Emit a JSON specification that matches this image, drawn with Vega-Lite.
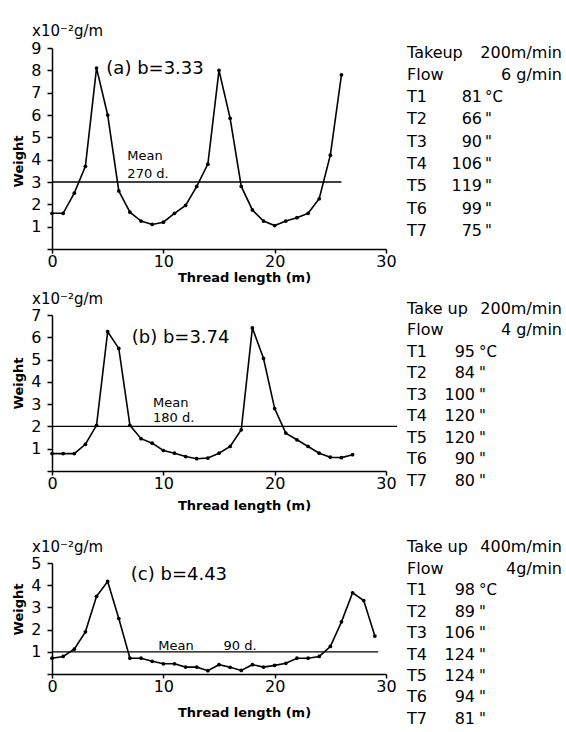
{
  "$schema": "https://vega.github.io/schema/vega-lite/v6.json",
  "padding": {"left": 12, "top": 24, "right": 0, "bottom": 0},
  "background": "white",
  "spacing": 8,
  "config": {
    "view": {"stroke": null},
    "font": "DejaVu Sans",
    "axis": {"grid": false, "domainColor": "black", "tickColor": "black", "labelColor": "black", "titleColor": "black", "domainWidth": 1.5, "tickWidth": 1.5, "labelFontSize": 16, "labelFont": "DejaVu Sans", "titleFont": "DejaVu Sans", "titleFontSize": 13, "titleFontWeight": "bold", "labelOverlap": false},
    "axisX": {"tickSize": 4, "labelPadding": 0, "labelFlush": false, "titleX": 192},
    "axisY": {"tickSize": 5, "labelPadding": 6, "titlePadding": 5},
    "title": {"color": "black", "font": "DejaVu Sans", "fontSize": 15, "fontWeight": "normal", "anchor": "start", "frame": "group", "dx": -20},
    "text": {"color": "black", "font": "DejaVu Sans"}
  },
  "datasets": {
    "a": [
      {"len": 0, "w": 1.6}, {"len": 1, "w": 1.6}, {"len": 2, "w": 2.5}, {"len": 3, "w": 3.7}, {"len": 4, "w": 8.1},
      {"len": 5, "w": 6.0}, {"len": 6, "w": 2.6}, {"len": 7, "w": 1.65}, {"len": 8, "w": 1.25}, {"len": 9, "w": 1.1},
      {"len": 10, "w": 1.2}, {"len": 11, "w": 1.6}, {"len": 12, "w": 1.95}, {"len": 13, "w": 2.8}, {"len": 14, "w": 3.8},
      {"len": 15, "w": 8.0}, {"len": 16, "w": 5.85}, {"len": 17, "w": 2.8}, {"len": 18, "w": 1.75}, {"len": 19, "w": 1.25},
      {"len": 20, "w": 1.05}, {"len": 21, "w": 1.25}, {"len": 22, "w": 1.4}, {"len": 23, "w": 1.6}, {"len": 24, "w": 2.25},
      {"len": 25, "w": 4.2}, {"len": 26, "w": 7.8}
    ],
    "b": [
      {"len": 0, "w": 0.78}, {"len": 1, "w": 0.78}, {"len": 2, "w": 0.78}, {"len": 3, "w": 1.2}, {"len": 4, "w": 2.05},
      {"len": 5, "w": 6.25}, {"len": 6, "w": 5.5}, {"len": 7, "w": 2.05}, {"len": 8, "w": 1.45}, {"len": 9, "w": 1.25},
      {"len": 10, "w": 0.92}, {"len": 11, "w": 0.8}, {"len": 12, "w": 0.65}, {"len": 13, "w": 0.55}, {"len": 14, "w": 0.58},
      {"len": 15, "w": 0.8}, {"len": 16, "w": 1.1}, {"len": 17, "w": 1.85}, {"len": 18, "w": 6.42}, {"len": 19, "w": 5.05},
      {"len": 20, "w": 2.8}, {"len": 21, "w": 1.7}, {"len": 22, "w": 1.4}, {"len": 23, "w": 1.1}, {"len": 24, "w": 0.8},
      {"len": 25, "w": 0.62}, {"len": 26, "w": 0.6}, {"len": 27, "w": 0.73}
    ],
    "c": [
      {"len": 0, "w": 0.71}, {"len": 1, "w": 0.79}, {"len": 2, "w": 1.12}, {"len": 3, "w": 1.9}, {"len": 4, "w": 3.5},
      {"len": 5, "w": 4.17}, {"len": 6, "w": 2.5}, {"len": 7, "w": 0.71}, {"len": 8, "w": 0.71}, {"len": 9, "w": 0.57},
      {"len": 10, "w": 0.46}, {"len": 11, "w": 0.46}, {"len": 12, "w": 0.31}, {"len": 13, "w": 0.31}, {"len": 14, "w": 0.15},
      {"len": 15, "w": 0.42}, {"len": 16, "w": 0.3}, {"len": 17, "w": 0.16}, {"len": 18, "w": 0.42}, {"len": 19, "w": 0.31},
      {"len": 20, "w": 0.39}, {"len": 21, "w": 0.48}, {"len": 22, "w": 0.71}, {"len": 23, "w": 0.71}, {"len": 24, "w": 0.79},
      {"len": 25, "w": 1.24}, {"len": 26, "w": 2.35}, {"len": 27, "w": 3.66}, {"len": 28, "w": 3.31}, {"len": 29, "w": 1.71}
    ],
    "ma": [{"from": 0, "to": 26, "mean": 3}],
    "mb": [{"from": 0, "to": 31, "mean": 2}],
    "mc": [{"from": 0, "to": 29.3, "mean": 1}],
    "la": [
      {"x": 4.88, "y": 8.06, "label": "(a) b=3.33", "kind": "big"},
      {"x": 6.77, "y": 4.17, "label": "Mean", "kind": "small"},
      {"x": 6.77, "y": 3.36, "label": "270  d.", "kind": "small"}
    ],
    "lb": [
      {"x": 7.16, "y": 5.96, "label": "(b) b=3.74", "kind": "big"},
      {"x": 9.07, "y": 3.05, "label": "Mean", "kind": "small"},
      {"x": 9.07, "y": 2.4, "label": "180  d.", "kind": "small"}
    ],
    "lc": [
      {"x": 7.08, "y": 4.45, "label": "(c) b=4.43", "kind": "big"},
      {"x": 9.55, "y": 1.26, "label": "Mean", "kind": "small"},
      {"x": 15.4, "y": 1.26, "label": "90 d.", "kind": "small"}
    ],
    "ta": [
      {"row": 1, "name": "Takeup", "head": "200m/min"},
      {"row": 2, "name": "Flow", "head": "6 g/min"},
      {"row": 3, "name": "T1", "num": "81", "unit": "°C"},
      {"row": 4, "name": "T2", "num": "66", "unit": "\""},
      {"row": 5, "name": "T3", "num": "90", "unit": "\""},
      {"row": 6, "name": "T4", "num": "106", "unit": "\""},
      {"row": 7, "name": "T5", "num": "119", "unit": "\""},
      {"row": 8, "name": "T6", "num": "99", "unit": "\""},
      {"row": 9, "name": "T7", "num": "75", "unit": "\""}
    ],
    "tb": [
      {"row": 1, "name": "Take up", "head": "200m/min"},
      {"row": 2, "name": "Flow", "head": "4 g/min"},
      {"row": 3, "name": "T1", "num": "95", "unit": "°C"},
      {"row": 4, "name": "T2", "num": "84", "unit": "\""},
      {"row": 5, "name": "T3", "num": "100", "unit": "\""},
      {"row": 6, "name": "T4", "num": "120", "unit": "\""},
      {"row": 7, "name": "T5", "num": "120", "unit": "\""},
      {"row": 8, "name": "T6", "num": "90", "unit": "\""},
      {"row": 9, "name": "T7", "num": "80", "unit": "\""}
    ],
    "tc": [
      {"row": 1, "name": "Take up", "head": "400m/min"},
      {"row": 2, "name": "Flow", "head": "4g/min"},
      {"row": 3, "name": "T1", "num": "98", "unit": "°C"},
      {"row": 4, "name": "T2", "num": "89", "unit": "\""},
      {"row": 5, "name": "T3", "num": "106", "unit": "\""},
      {"row": 6, "name": "T4", "num": "124", "unit": "\""},
      {"row": 7, "name": "T5", "num": "124", "unit": "\""},
      {"row": 8, "name": "T6", "num": "94", "unit": "\""},
      {"row": 9, "name": "T7", "num": "81", "unit": "\""}
    ]
  },
  "vconcat": [
    {
      "hconcat": [
        {
          "width": 334, "height": 201,
          "title": {"text": "x10⁻²g/m", "offset": 1},
          "layer": [
            {"data": {"name": "a"}, "mark": {"type": "line", "color": "black", "strokeWidth": 1.6, "point": {"filled": true, "size": 14, "color": "black"}},
             "encoding": {
               "x": {"field": "len", "type": "quantitative", "scale": {"domain": [0, 30], "nice": false}, "axis": {"title": "Thread length (m)", "values": [0, 10, 20, 30], "tickCount": 40, "format": "d", "titlePadding": 2, "labelOverlap": false}},
               "y": {"field": "w", "type": "quantitative", "scale": {"domain": [0, 9], "nice": false}, "axis": {"title": "Weight", "values": [0,1,2,3,4,5,6,7,8,9], "tickCount": 40, "format": "d", "labelExpr": "datum.value == 0 ? '' : datum.label", "titleY": 113, "labelOverlap": false}}
             }},
            {"data": {"name": "ma"}, "mark": {"type": "rule", "color": "black", "strokeWidth": 1.3},
             "encoding": {"x": {"field": "from", "type": "quantitative"}, "x2": {"field": "to"}, "y": {"field": "mean", "type": "quantitative"}}},
            {"data": {"name": "la"}, "transform": [{"filter": "datum.kind == 'big'"}], "mark": {"type": "text", "align": "left", "baseline": "middle", "fontSize": 18},
             "encoding": {"x": {"field": "x", "type": "quantitative"}, "y": {"field": "y", "type": "quantitative"}, "text": {"field": "label"}}},
            {"data": {"name": "la"}, "transform": [{"filter": "datum.kind == 'small'"}], "mark": {"type": "text", "align": "left", "baseline": "middle", "fontSize": 13},
             "encoding": {"x": {"field": "x", "type": "quantitative"}, "y": {"field": "y", "type": "quantitative"}, "text": {"field": "label"}}}
          ]
        },
        {
          "width": 155, "height": 201,
          "data": {"name": "ta"},
          "encoding": {"y": {"field": "row", "type": "quantitative", "scale": {"domain": [0.798, 9.81], "reverse": true, "nice": false, "zero": false}, "axis": null}},
          "layer": [
            {"mark": {"type": "text", "align": "left", "baseline": "middle", "fontSize": 16},
             "encoding": {"x": {"datum": 0, "type": "quantitative", "scale": {"domain": [0, 155], "nice": false}, "axis": null}, "text": {"field": "name"}}},
            {"transform": [{"filter": "datum.num"}], "mark": {"type": "text", "align": "right", "baseline": "middle", "fontSize": 16},
             "encoding": {"x": {"datum": 75, "type": "quantitative"}, "text": {"field": "num"}}},
            {"transform": [{"filter": "datum.unit"}], "mark": {"type": "text", "align": "left", "baseline": "middle", "fontSize": 15},
             "encoding": {"x": {"datum": 78, "type": "quantitative"}, "text": {"field": "unit"}}},
            {"transform": [{"filter": "datum.head"}], "mark": {"type": "text", "align": "right", "baseline": "middle", "fontSize": 16},
             "encoding": {"x": {"datum": 155, "type": "quantitative"}, "text": {"field": "head"}}}
          ]
        }
      ],
      "spacing": 21, "bounds": "flush"
    },
    {
      "hconcat": [
        {
          "width": 334, "height": 156,
          "title": {"text": "x10⁻²g/m", "offset": 0},
          "layer": [
            {"data": {"name": "b"}, "mark": {"type": "line", "color": "black", "strokeWidth": 1.6, "point": {"filled": true, "size": 14, "color": "black"}},
             "encoding": {
               "x": {"field": "len", "type": "quantitative", "scale": {"domain": [0, 30], "nice": false}, "axis": {"title": "Thread length (m)", "values": [0, 10, 20, 30], "tickCount": 40, "format": "d", "titlePadding": 8, "labelOverlap": false}},
               "y": {"field": "w", "type": "quantitative", "scale": {"domain": [0, 7], "nice": false}, "axis": {"title": "Weight", "values": [0,1,2,3,4,5,6,7], "tickCount": 40, "format": "d", "labelExpr": "datum.value == 0 ? '' : datum.label", "titleY": 68, "labelOverlap": false}}
             }},
            {"data": {"name": "mb"}, "mark": {"type": "rule", "color": "black", "strokeWidth": 1.3},
             "encoding": {"x": {"field": "from", "type": "quantitative"}, "x2": {"field": "to"}, "y": {"field": "mean", "type": "quantitative"}}},
            {"data": {"name": "lb"}, "transform": [{"filter": "datum.kind == 'big'"}], "mark": {"type": "text", "align": "left", "baseline": "middle", "fontSize": 18},
             "encoding": {"x": {"field": "x", "type": "quantitative"}, "y": {"field": "y", "type": "quantitative"}, "text": {"field": "label"}}},
            {"data": {"name": "lb"}, "transform": [{"filter": "datum.kind == 'small'"}], "mark": {"type": "text", "align": "left", "baseline": "middle", "fontSize": 13},
             "encoding": {"x": {"field": "x", "type": "quantitative"}, "y": {"field": "y", "type": "quantitative"}, "text": {"field": "label"}}}
          ]
        },
        {
          "width": 155, "height": 156,
          "data": {"name": "tb"},
          "encoding": {"y": {"field": "row", "type": "quantitative", "scale": {"domain": [1.302, 8.558], "reverse": true, "nice": false, "zero": false}, "axis": null}},
          "layer": [
            {"mark": {"type": "text", "align": "left", "baseline": "middle", "fontSize": 16},
             "encoding": {"x": {"datum": 0, "type": "quantitative", "scale": {"domain": [0, 155], "nice": false}, "axis": null}, "text": {"field": "name"}}},
            {"transform": [{"filter": "datum.num"}], "mark": {"type": "text", "align": "right", "baseline": "middle", "fontSize": 16},
             "encoding": {"x": {"datum": 68, "type": "quantitative"}, "text": {"field": "num"}}},
            {"transform": [{"filter": "datum.unit"}], "mark": {"type": "text", "align": "left", "baseline": "middle", "fontSize": 15},
             "encoding": {"x": {"datum": 72, "type": "quantitative"}, "text": {"field": "unit"}}},
            {"transform": [{"filter": "datum.head"}], "mark": {"type": "text", "align": "right", "baseline": "middle", "fontSize": 16},
             "encoding": {"x": {"datum": 155, "type": "quantitative"}, "text": {"field": "head"}}}
          ]
        }
      ],
      "spacing": 21, "bounds": "flush"
    },
    {
      "hconcat": [
        {
          "width": 334, "height": 111,
          "title": {"text": ["", "x10⁻²g/m"], "offset": 0, "lineHeight": 20},
          "layer": [
            {"data": {"name": "c"}, "mark": {"type": "line", "color": "black", "strokeWidth": 1.6, "point": {"filled": true, "size": 14, "color": "black"}},
             "encoding": {
               "x": {"field": "len", "type": "quantitative", "scale": {"domain": [0, 30], "nice": false}, "axis": {"title": "Thread length (m)", "values": [0, 10, 20, 30], "tickCount": 40, "format": "d", "titlePadding": 12, "labelOverlap": false}},
               "y": {"field": "w", "type": "quantitative", "scale": {"domain": [0, 5], "nice": false}, "axis": {"title": "Weight", "values": [0,1,2,3,4,5], "tickCount": 40, "format": "d", "labelExpr": "datum.value == 0 ? '' : datum.label", "titleY": 46, "labelOverlap": false}}
             }},
            {"data": {"name": "mc"}, "mark": {"type": "rule", "color": "black", "strokeWidth": 1.3},
             "encoding": {"x": {"field": "from", "type": "quantitative"}, "x2": {"field": "to"}, "y": {"field": "mean", "type": "quantitative"}}},
            {"data": {"name": "lc"}, "transform": [{"filter": "datum.kind == 'big'"}], "mark": {"type": "text", "align": "left", "baseline": "middle", "fontSize": 18},
             "encoding": {"x": {"field": "x", "type": "quantitative"}, "y": {"field": "y", "type": "quantitative"}, "text": {"field": "label"}}},
            {"data": {"name": "lc"}, "transform": [{"filter": "datum.kind == 'small'"}], "mark": {"type": "text", "align": "left", "baseline": "middle", "fontSize": 13},
             "encoding": {"x": {"field": "x", "type": "quantitative"}, "y": {"field": "y", "type": "quantitative"}, "text": {"field": "label"}}}
          ]
        },
        {
          "width": 155, "height": 111,
          "data": {"name": "tc"},
          "encoding": {"y": {"field": "row", "type": "quantitative", "scale": {"domain": [1.744, 6.907], "reverse": true, "nice": false, "zero": false}, "axis": null}},
          "layer": [
            {"mark": {"type": "text", "align": "left", "baseline": "middle", "fontSize": 16},
             "encoding": {"x": {"datum": 0, "type": "quantitative", "scale": {"domain": [0, 155], "nice": false}, "axis": null}, "text": {"field": "name"}}},
            {"transform": [{"filter": "datum.num"}], "mark": {"type": "text", "align": "right", "baseline": "middle", "fontSize": 16},
             "encoding": {"x": {"datum": 68, "type": "quantitative"}, "text": {"field": "num"}}},
            {"transform": [{"filter": "datum.unit"}], "mark": {"type": "text", "align": "left", "baseline": "middle", "fontSize": 15},
             "encoding": {"x": {"datum": 72, "type": "quantitative"}, "text": {"field": "unit"}}},
            {"transform": [{"filter": "datum.head"}], "mark": {"type": "text", "align": "right", "baseline": "middle", "fontSize": 16},
             "encoding": {"x": {"datum": 155, "type": "quantitative"}, "text": {"field": "head"}}}
          ]
        }
      ],
      "spacing": 21, "bounds": "flush"
    }
  ]
}
